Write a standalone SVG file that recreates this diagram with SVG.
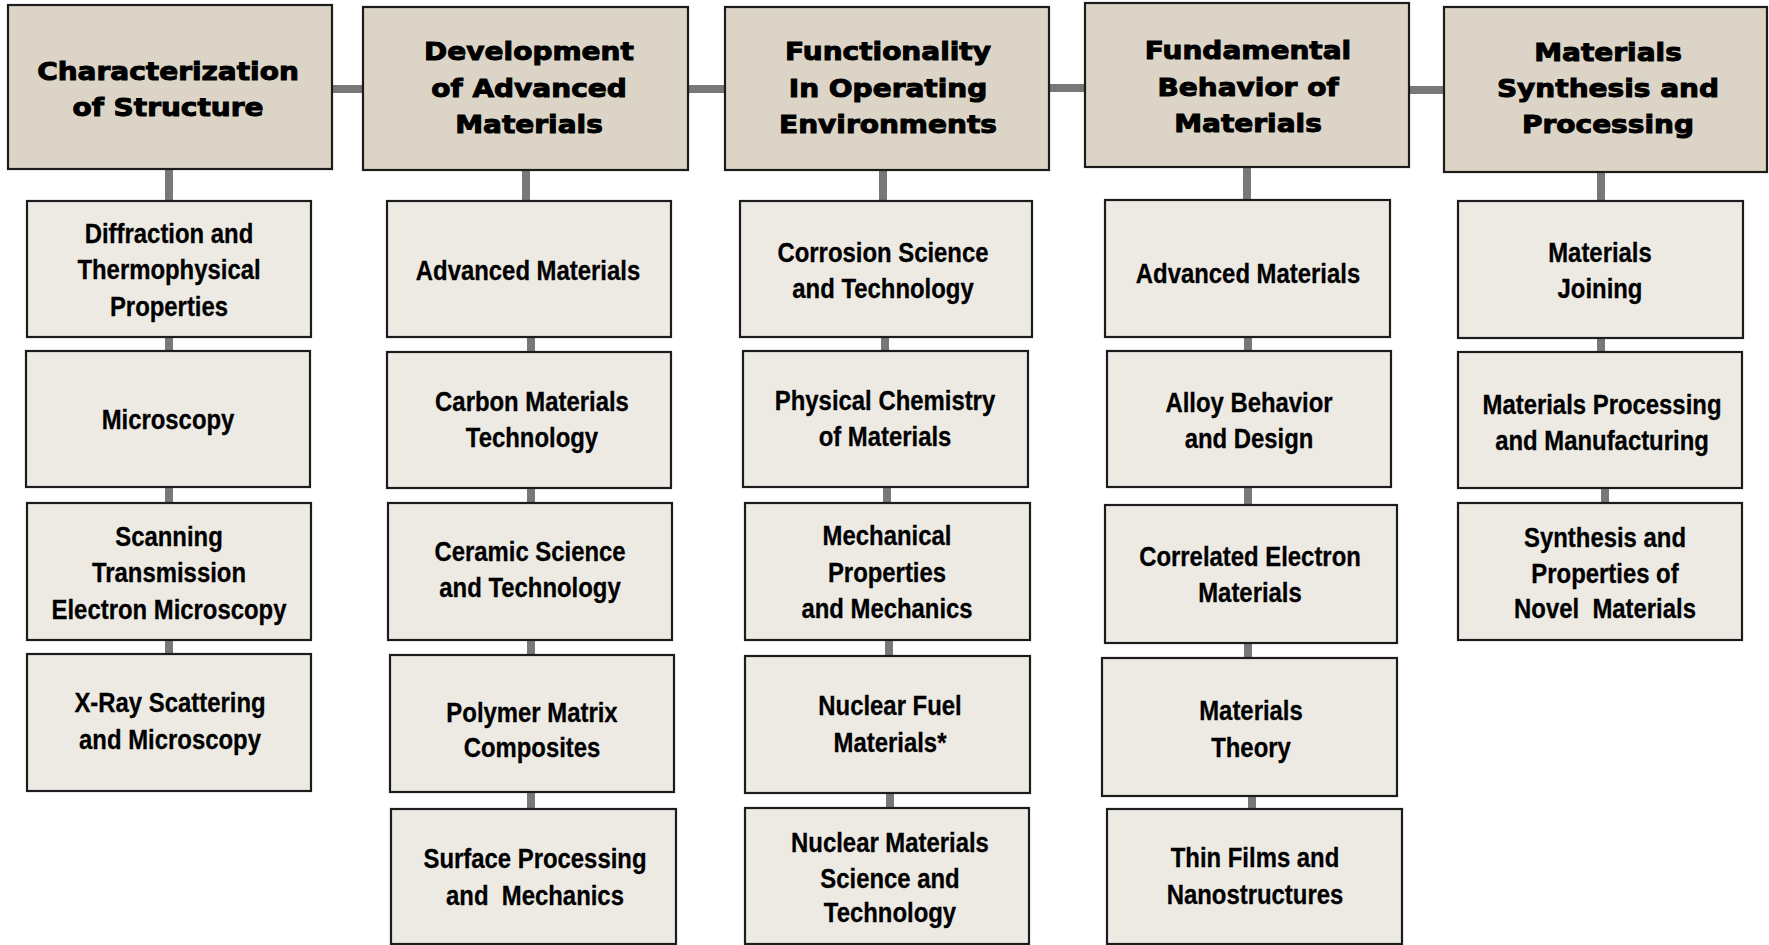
<svg xmlns="http://www.w3.org/2000/svg" width="1769" height="945" viewBox="0 0 1769 945">
<style>
.hdr{fill:#dcd5c7;stroke:#1c1c1c;stroke-width:2.2}
.sub{fill:#edeae4;stroke:#1c1c1c;stroke-width:2.2}
.ht{font-family:"DejaVu Sans",sans-serif;font-weight:bold;font-size:25px;fill:#000;stroke:#000;stroke-width:1px;text-anchor:middle}
.st{font-family:"Liberation Sans",Arial,sans-serif;font-weight:bold;font-size:27px;fill:#000;stroke:#000;stroke-width:0.3px;text-anchor:middle}
.cn{stroke:#787878;stroke-width:8;fill:none}
</style>
<rect width="1769" height="945" fill="#ffffff"/>
<g id="connectors" class="cn">
<path d="M332 89H363M688 89H725M1049 88H1085M1409 90H1444"/>
<path d="M169 169V201M169 337V351M169 487V503M169 640V654"/>
<path d="M526 170V201M531 337V352M531 488V503M531 640V655M531 792V809"/>
<path d="M883 170V201M885 337V351M887 487V503M889 640V656M890 793V808"/>
<path d="M1247 167V200M1248 337V351M1248 487V505M1248 643V658M1252 796V809"/>
<path d="M1601 172V201M1601 338V352M1605 488V503"/>
</g>
<g id="h1"><rect class="hdr" x="8" y="5" width="324" height="164"/>
<text class="ht" transform="translate(168,0) scale(1.12,1)"><tspan x="0" y="80">Characterization</tspan><tspan x="0" y="116">of Structure</tspan></text></g>
<g id="h2"><rect class="hdr" x="363" y="7" width="325" height="163"/>
<text class="ht" transform="translate(529,0) scale(1.12,1)"><tspan x="0" y="60">Development</tspan><tspan x="0" y="97">of Advanced</tspan><tspan x="0" y="133">Materials</tspan></text></g>
<g id="h3"><rect class="hdr" x="725" y="7" width="324" height="163"/>
<text class="ht" transform="translate(888,0) scale(1.12,1)"><tspan x="0" y="60">Functionality</tspan><tspan x="0" y="97">In Operating</tspan><tspan x="0" y="133">Environments</tspan></text></g>
<g id="h4"><rect class="hdr" x="1085" y="3" width="324" height="164"/>
<text class="ht" transform="translate(1248,0) scale(1.12,1)"><tspan x="0" y="59">Fundamental</tspan><tspan x="0" y="96">Behavior of</tspan><tspan x="0" y="132">Materials</tspan></text></g>
<g id="h5"><rect class="hdr" x="1444" y="7" width="323" height="165"/>
<text class="ht" transform="translate(1608,0) scale(1.12,1)"><tspan x="0" y="61">Materials</tspan><tspan x="0" y="97">Synthesis and</tspan><tspan x="0" y="133">Processing</tspan></text></g>

<g id="c1n1"><rect class="sub" x="27" y="201" width="284" height="136"/>
<text class="st" transform="translate(169,0) scale(0.885,1)"><tspan x="0" y="243">Diffraction and</tspan><tspan x="0" y="279">Thermophysical</tspan><tspan x="0" y="316">Properties</tspan></text></g>
<g id="c1n2"><rect class="sub" x="26" y="351" width="284" height="136"/>
<text class="st" transform="translate(168,0) scale(0.885,1)"><tspan x="0" y="429">Microscopy</tspan></text></g>
<g id="c1n3"><rect class="sub" x="27" y="503" width="284" height="137"/>
<text class="st" transform="translate(169,0) scale(0.885,1)"><tspan x="0" y="546">Scanning</tspan><tspan x="0" y="582">Transmission</tspan><tspan x="0" y="619">Electron Microscopy</tspan></text></g>
<g id="c1n4"><rect class="sub" x="27" y="654" width="284" height="137"/>
<text class="st" transform="translate(170,0) scale(0.885,1)"><tspan x="0" y="712">X-Ray Scattering</tspan><tspan x="0" y="749">and Microscopy</tspan></text></g>

<g id="c2n1"><rect class="sub" x="387" y="201" width="284" height="136"/>
<text class="st" transform="translate(528,0) scale(0.885,1)"><tspan x="0" y="280">Advanced Materials</tspan></text></g>
<g id="c2n2"><rect class="sub" x="387" y="352" width="284" height="136"/>
<text class="st" transform="translate(532,0) scale(0.885,1)"><tspan x="0" y="411">Carbon Materials</tspan><tspan x="0" y="447">Technology</tspan></text></g>
<g id="c2n3"><rect class="sub" x="388" y="503" width="284" height="137"/>
<text class="st" transform="translate(530,0) scale(0.885,1)"><tspan x="0" y="561">Ceramic Science</tspan><tspan x="0" y="597">and Technology</tspan></text></g>
<g id="c2n4"><rect class="sub" x="390" y="655" width="284" height="137"/>
<text class="st" transform="translate(532,0) scale(0.885,1)"><tspan x="0" y="722">Polymer Matrix</tspan><tspan x="0" y="757">Composites</tspan></text></g>
<g id="c2n5"><rect class="sub" x="391" y="809" width="285" height="135"/>
<text class="st" xml:space="preserve" transform="translate(535,0) scale(0.885,1)"><tspan x="0" y="868">Surface Processing</tspan><tspan x="0" y="905">and  Mechanics</tspan></text></g>

<g id="c3n1"><rect class="sub" x="740" y="201" width="292" height="136"/>
<text class="st" transform="translate(883,0) scale(0.885,1)"><tspan x="0" y="262">Corrosion Science</tspan><tspan x="0" y="298">and Technology</tspan></text></g>
<g id="c3n2"><rect class="sub" x="743" y="351" width="285" height="136"/>
<text class="st" transform="translate(885,0) scale(0.885,1)"><tspan x="0" y="410">Physical Chemistry</tspan><tspan x="0" y="446">of Materials</tspan></text></g>
<g id="c3n3"><rect class="sub" x="745" y="503" width="285" height="137"/>
<text class="st" transform="translate(887,0) scale(0.885,1)"><tspan x="0" y="545">Mechanical</tspan><tspan x="0" y="582">Properties</tspan><tspan x="0" y="618">and Mechanics</tspan></text></g>
<g id="c3n4"><rect class="sub" x="745" y="656" width="285" height="137"/>
<text class="st" transform="translate(890,0) scale(0.885,1)"><tspan x="0" y="715">Nuclear Fuel</tspan><tspan x="0" y="752">Materials*</tspan></text></g>
<g id="c3n5"><rect class="sub" x="745" y="808" width="284" height="136"/>
<text class="st" transform="translate(890,0) scale(0.885,1)"><tspan x="0" y="852">Nuclear Materials</tspan><tspan x="0" y="888">Science and</tspan><tspan x="0" y="922">Technology</tspan></text></g>

<g id="c4n1"><rect class="sub" x="1105" y="200" width="285" height="137"/>
<text class="st" transform="translate(1248,0) scale(0.885,1)"><tspan x="0" y="283">Advanced Materials</tspan></text></g>
<g id="c4n2"><rect class="sub" x="1107" y="351" width="284" height="136"/>
<text class="st" transform="translate(1249,0) scale(0.885,1)"><tspan x="0" y="412">Alloy Behavior</tspan><tspan x="0" y="448">and Design</tspan></text></g>
<g id="c4n3"><rect class="sub" x="1105" y="505" width="292" height="138"/>
<text class="st" transform="translate(1250,0) scale(0.885,1)"><tspan x="0" y="566">Correlated Electron</tspan><tspan x="0" y="602">Materials</tspan></text></g>
<g id="c4n4"><rect class="sub" x="1102" y="658" width="295" height="138"/>
<text class="st" transform="translate(1251,0) scale(0.885,1)"><tspan x="0" y="720">Materials</tspan><tspan x="0" y="757">Theory</tspan></text></g>
<g id="c4n5"><rect class="sub" x="1107" y="809" width="295" height="135"/>
<text class="st" transform="translate(1255,0) scale(0.885,1)"><tspan x="0" y="867">Thin Films and</tspan><tspan x="0" y="904">Nanostructures</tspan></text></g>

<g id="c5n1"><rect class="sub" x="1458" y="201" width="285" height="137"/>
<text class="st" transform="translate(1600,0) scale(0.885,1)"><tspan x="0" y="262">Materials</tspan><tspan x="0" y="298">Joining</tspan></text></g>
<g id="c5n2"><rect class="sub" x="1458" y="352" width="284" height="136"/>
<text class="st" transform="translate(1602,0) scale(0.885,1)"><tspan x="0" y="414">Materials Processing</tspan><tspan x="0" y="450">and Manufacturing</tspan></text></g>
<g id="c5n3"><rect class="sub" x="1458" y="503" width="284" height="137"/>
<text class="st" xml:space="preserve" transform="translate(1605,0) scale(0.885,1)"><tspan x="0" y="547">Synthesis and</tspan><tspan x="0" y="583">Properties of</tspan><tspan x="0" y="618">Novel  Materials</tspan></text></g>
</svg>
